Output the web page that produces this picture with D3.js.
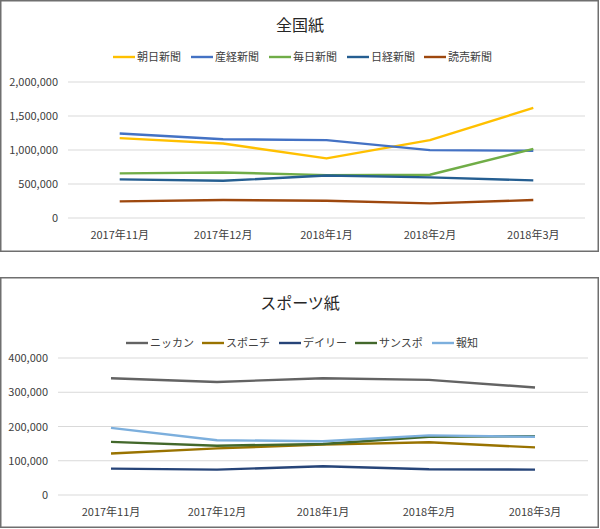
<!DOCTYPE html>
<html lang="ja">
<head>
<meta charset="UTF-8">
<title>全国紙・スポーツ紙</title>
<style>
body { margin: 0; background: #fff; }
text { font-family: 'Noto Sans CJK JP', 'Noto Sans', sans-serif; fill: #404040; }
.title { font-size: 16px; fill: #262626; }
.legend text { font-size: 11px; }
.tick text { font-size: 11px; }
.grid line { stroke: #d9d9d9; }
.series { fill: none; stroke-width: 2.4; stroke-linejoin: round; }
</style>
</head>
<body>
<svg width="600" height="529"></svg>
<script src="https://d3js.org/d3.v7.min.js"></script>
<script>

var months = ["2017年11月", "2017年12月", "2018年1月", "2018年2月", "2018年3月"];

// 全国紙
var nationalNames = ["朝日新聞", "産経新聞", "毎日新聞", "日経新聞", "読売新聞"];
var asahi   = [1174000, 1096000, 876000, 1145000, 1619000];
var sankei  = [1243000, 1159000, 1145000, 998000, 988000];
var mainichi = [656000, 670000, 631000, 636000, 1017000];
var nikkei  = [568000, 547000, 626000, 597000, 553000];
var yomiuri = [245000, 264000, 254000, 215000, 264000];
var nationalColors = ["#ffc000", "#4472c4", "#70ad47", "#255e91", "#9e480e"];
var nationalTicks = [0, 500000, 1000000, 1500000, 2000000];

// スポーツ紙
var sportsNames = ["ニッカン", "スポニチ", "デイリー", "サンスポ", "報知"];
var nikkan   = [341000, 330000, 341000, 336000, 314000];
var sponichi = [121000, 136000, 147000, 154000, 139000];
var daily    = [77000, 74000, 84000, 75000, 74000];
var sansupo  = [155000, 144000, 149000, 170000, 172000];
var hochi    = [196000, 160000, 157000, 174000, 170000];
var sportsColors = ["#636363", "#997300", "#264478", "#43682b", "#7cafdd"];
var sportsTicks = [0, 100000, 200000, 300000, 400000];

var svg = d3.select("svg");

function drawChart(opt) {
    var g = svg.append("g").attr("transform", "translate(0," + opt.top + ")");

    g.append("rect")
        .attr("x", 0.75).attr("y", 0.75)
        .attr("width", 597.5).attr("height", opt.height - 1.5)
        .attr("fill", "#fff")
        .attr("stroke", "#6f6f6f")
        .attr("stroke-width", 1.5);

    g.append("text")
        .attr("class", "title")
        .attr("x", 300).attr("y", opt.titleY)
        .attr("text-anchor", "middle")
        .text(opt.title);

    var x = d3.scaleBand().domain(months).range([opt.left, opt.right]);
    var y = d3.scaleLinear().domain([0, opt.ticks[opt.ticks.length - 1]]).range([opt.bottom, opt.plotTop]);

    g.append("g")
        .attr("class", "grid")
        .selectAll("line")
        .data(opt.ticks)
        .enter().append("line")
        .attr("x1", opt.left).attr("x2", opt.right)
        .attr("y1", function(d) { return y(d); })
        .attr("y2", function(d) { return y(d); });

    var yAxis = d3.axisLeft(y)
        .tickValues(opt.ticks)
        .tickFormat(d3.format(","))
        .tickSize(0)
        .tickPadding(10);

    g.append("g")
        .attr("transform", "translate(" + opt.left + ",0)")
        .call(yAxis)
        .call(function(s) { s.select(".domain").remove(); });

    var xAxis = d3.axisBottom(x).tickSize(0).tickPadding(13);

    g.append("g")
        .attr("transform", "translate(0," + opt.bottom + ")")
        .call(xAxis)
        .call(function(s) { s.select(".domain").remove(); });

    var line = d3.line()
        .x(function(d, i) { return x(months[i]) + x.bandwidth() / 2; })
        .y(function(d) { return y(d); });

    g.selectAll(".series")
        .data(opt.series)
        .enter().append("path")
        .attr("class", "series")
        .attr("stroke", function(d, i) { return opt.colors[i]; })
        .attr("d", line);

    var legend = g.append("g").attr("class", "legend");
    var items = legend.selectAll("g")
        .data(opt.names)
        .enter().append("g")
        .attr("transform", function(d, i) { return "translate(" + opt.legendX[i] + "," + opt.legendY + ")"; });

    items.append("line")
        .attr("x1", 0).attr("x2", 22)
        .attr("stroke", function(d, i) { return opt.colors[i]; })
        .attr("stroke-width", 2.4);

    items.append("text")
        .attr("x", 24).attr("y", 4)
        .text(function(d) { return d; });
}

drawChart({
    top: 0, height: 252,
    title: "全国紙", titleY: 31,
    names: nationalNames,
    series: [asahi, sankei, mainichi, nikkei, yomiuri],
    colors: nationalColors,
    ticks: nationalTicks,
    left: 68, right: 585, plotTop: 82, bottom: 218,
    legendY: 57, legendX: [113, 191, 269, 347, 424]
});

drawChart({
    top: 277, height: 251,
    title: "スポーツ紙", titleY: 32,
    names: sportsNames,
    series: [nikkan, sponichi, daily, sansupo, hochi],
    colors: sportsColors,
    ticks: sportsTicks,
    left: 58, right: 588, plotTop: 81, bottom: 218,
    legendY: 66, legendX: [126, 202, 279, 355, 432]
});

</script>
</body>
</html>
